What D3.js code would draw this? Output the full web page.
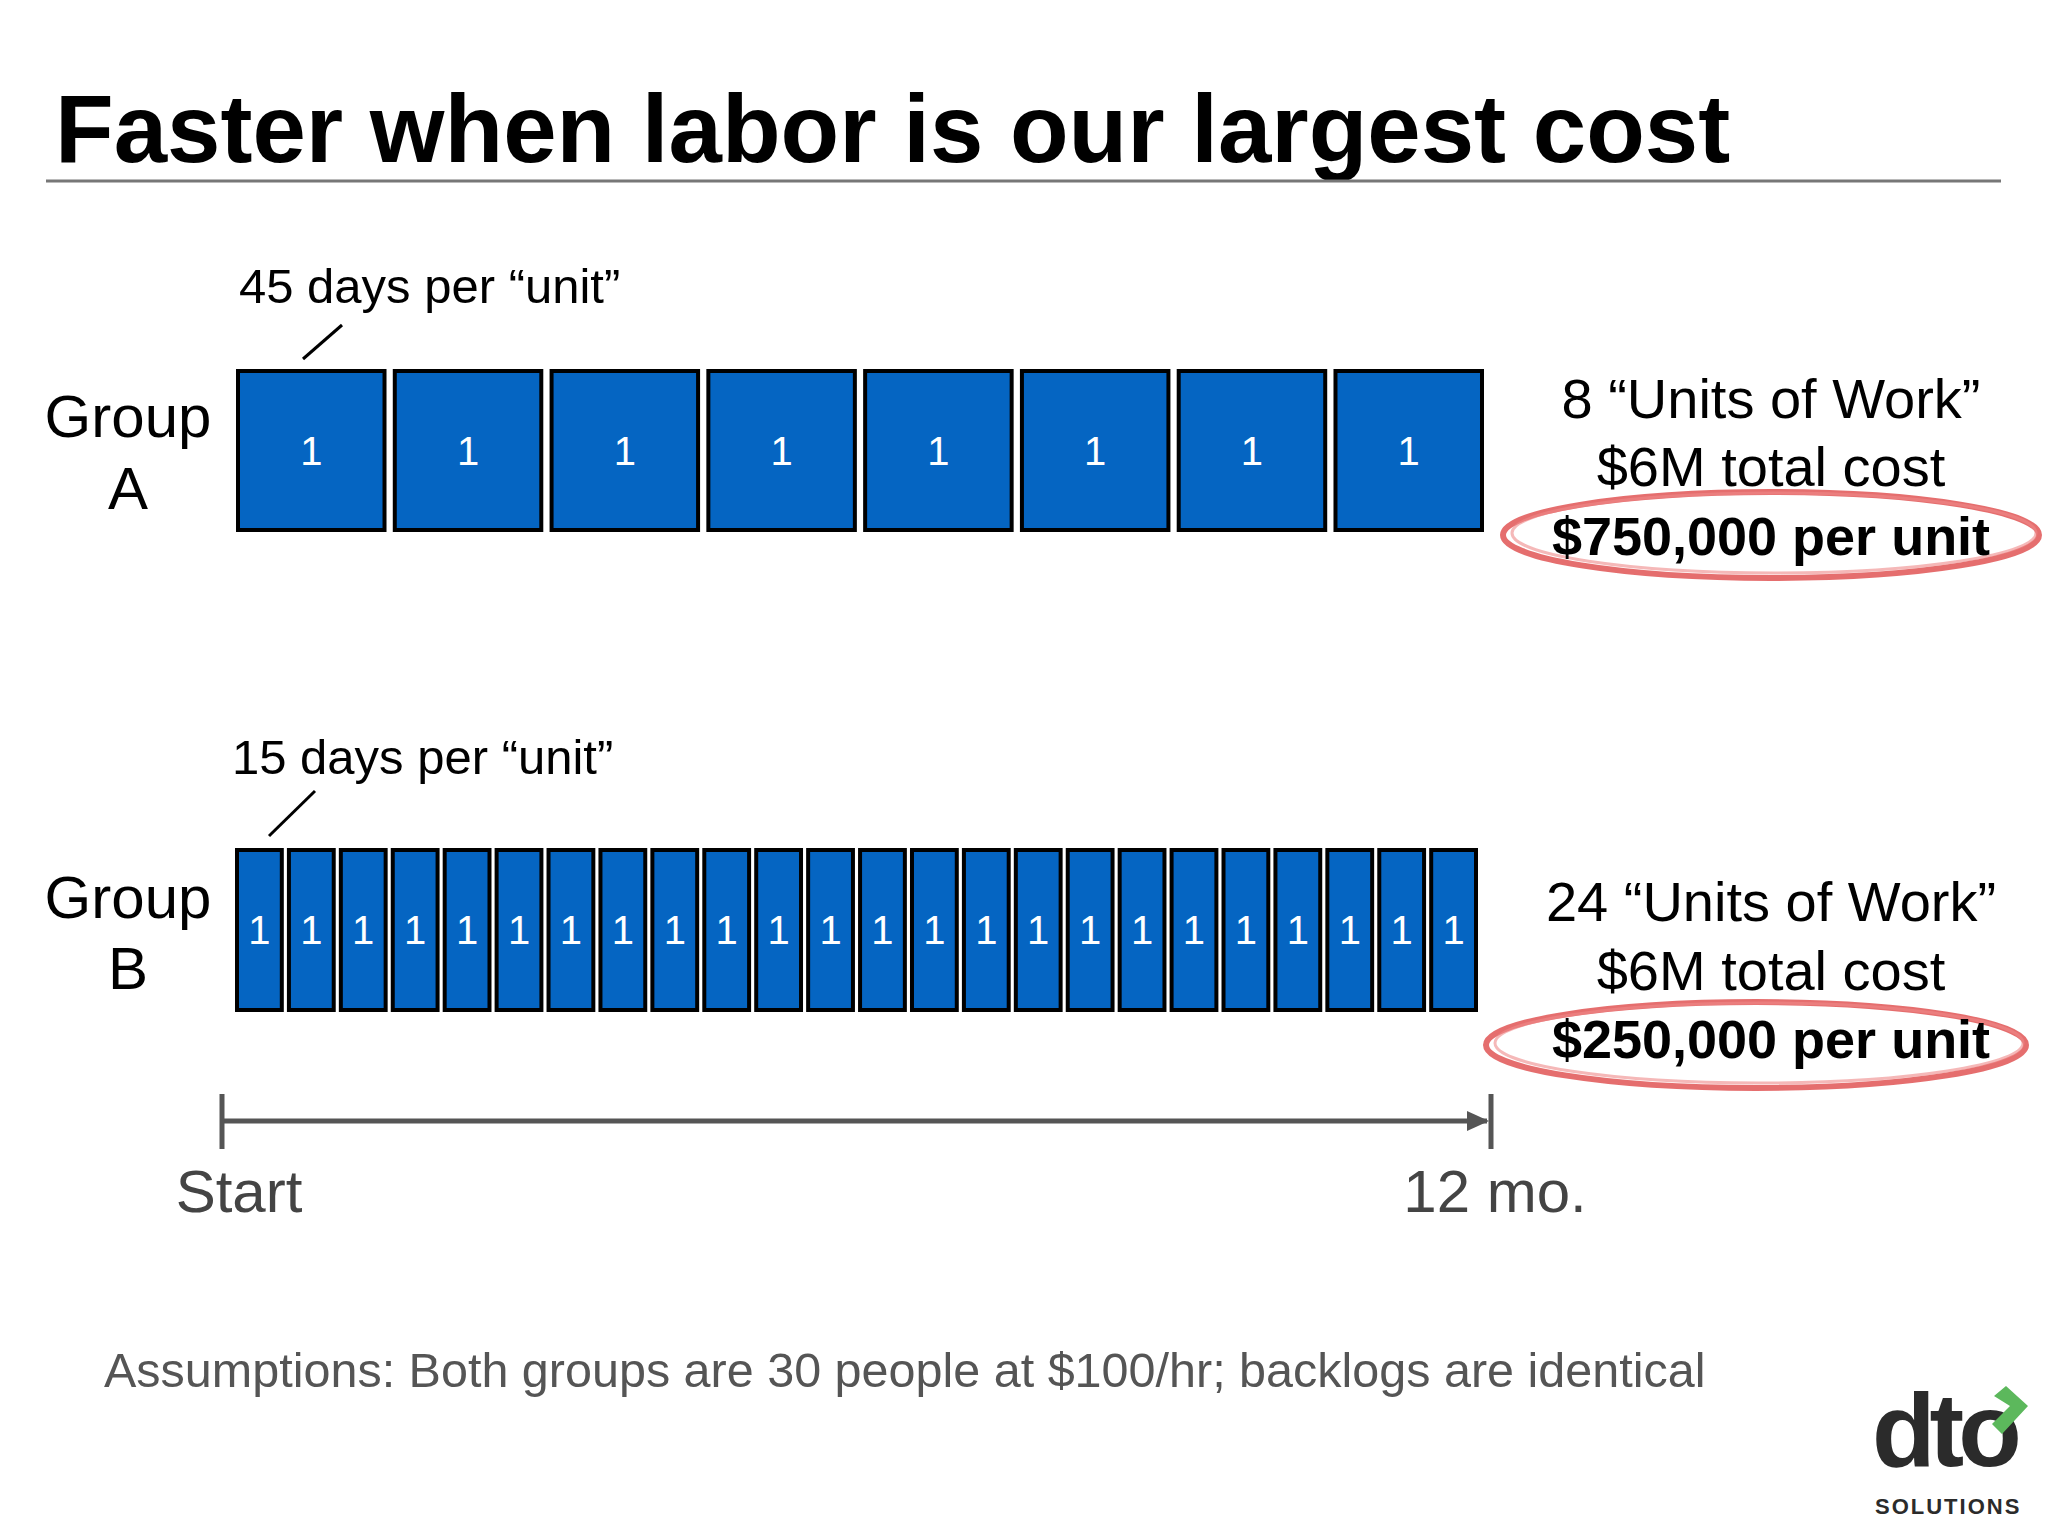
<!DOCTYPE html><html><head><meta charset="utf-8"><script src="https://cdn.jsdelivr.net/npm/d3@7"></script>
<style>body{margin:0;background:#fff}text{font-family:"Helvetica Neue",Arial,"Liberation Sans",sans-serif}</style></head><body>
<svg id="c" width="2048" height="1536"></svg>
<script>
const title = "Faster when labor is our largest cost";
const groups = ["Group A", "Group B"];
const unitCounts = [8, 24];
const daysPerUnit = ["45 days per “unit”", "15 days per “unit”"];
const summaryLines = [["8 “Units of Work”", "$6M total cost", "$750,000 per unit"],
                      ["24 “Units of Work”", "$6M total cost", "$250,000 per unit"]];
const timeLabels = ["Start", "12 mo."];
const assumption = "Assumptions: Both groups are 30 people at $100/hr; backlogs are identical";

const svg = d3.select("#c");
svg.append("text").attr("x",55).attr("y",162).attr("font-size",96).attr("font-weight","bold").attr("fill","#000").text(title);
svg.append("line").attr("x1",46).attr("x2",2001).attr("y1",181).attr("y2",181).attr("stroke","#777").attr("stroke-width",3);

const rows = [
 {x0:236,x1:1484,top:371,bot:530,pad:0.04,lbl:[{t:daysPerUnit[0],x:239,y:303}],leader:[342,325,303,359],g:[437,509],sum:[418,486,555],ell:[1771,535,268,43]},
 {x0:235,x1:1478,top:850,bot:1010,pad:0.06,lbl:[{t:daysPerUnit[1],x:232,y:774}],leader:[315,791,269,836],g:[918,989],sum:[921,990,1058],ell:[1756,1045,270,43]}
];
rows.forEach((r,i)=>{
  const x = d3.scaleBand().domain(d3.range(unitCounts[i])).range([r.x0,r.x1]).paddingInner(r.pad);
  const g = svg.append("g");
  g.selectAll("rect").data(d3.range(unitCounts[i])).join("rect")
    .attr("x",d=>x(d)+2).attr("y",r.top).attr("width",x.bandwidth()-4).attr("height",r.bot-r.top)
    .attr("fill","#0565c2").attr("stroke","#000").attr("stroke-width",4);
  g.selectAll("text").data(d3.range(unitCounts[i])).join("text")
    .attr("x",d=>x(d)+x.bandwidth()/2).attr("y",(r.top+r.bot)/2+14).attr("text-anchor","middle")
    .attr("font-size",40).attr("fill","#fff").text("1");
  svg.append("text").attr("x",r.lbl[0].x).attr("y",r.lbl[0].y).attr("font-size",49).text(r.lbl[0].t);
  svg.append("line").attr("x1",r.leader[0]).attr("y1",r.leader[1]).attr("x2",r.leader[2]).attr("y2",r.leader[3]).attr("stroke","#000").attr("stroke-width",3);
  const parts = groups[i].split(" ");
  parts.forEach((p,j)=>svg.append("text").attr("x",128).attr("y",r.g[j]).attr("text-anchor","middle").attr("font-size",60).text(p));
  const [cx,cy,rx,ry]=r.ell;
  svg.append("ellipse").attr("cx",cx).attr("cy",cy).attr("rx",rx).attr("ry",ry).attr("fill","none").attr("stroke","#e05555").attr("stroke-width",6).attr("opacity",0.85);
  svg.append("ellipse").attr("cx",cx+3).attr("cy",cy-2).attr("rx",rx-6).attr("ry",ry-3).attr("fill","none").attr("stroke","#e88").attr("stroke-width",3).attr("opacity",0.6);
  summaryLines[i].forEach((t,j)=>svg.append("text").attr("x",1771).attr("y",r.sum[j]).attr("text-anchor","middle").attr("font-size",j==2?54:56).attr("font-weight",j==2?"600":"normal").text(t));
});

const tx = d3.scaleLinear().domain([0,12]).range([222,1491]);
const tc="#555";
svg.append("line").attr("x1",tx(0)).attr("x2",tx(12)-4).attr("y1",1121).attr("y2",1121).attr("stroke",tc).attr("stroke-width",5);
[0,12].forEach(m=>svg.append("line").attr("x1",tx(m)).attr("x2",tx(m)).attr("y1",1094).attr("y2",1149).attr("stroke",tc).attr("stroke-width",5));
svg.append("path").attr("d",`M${tx(12)-2},1121 L${tx(12)-24},1111 L${tx(12)-24},1131 Z`).attr("fill",tc);
svg.append("text").attr("x",239).attr("y",1212).attr("text-anchor","middle").attr("font-size",60).attr("fill","#444").text(timeLabels[0]);
svg.append("text").attr("x",1495).attr("y",1212).attr("text-anchor","middle").attr("font-size",60).attr("fill","#444").text(timeLabels[1]);

svg.append("text").attr("x",104).attr("y",1387).attr("font-size",48.5).attr("fill","#555").text(assumption);

const lg = svg.append("g");
lg.append("text").attr("x",1872).attr("y",1466).attr("font-size",104).attr("font-weight","bold").attr("fill","#2b2b2b").attr("letter-spacing",-6).text("dto");
lg.append("path").attr("d","M1994,1396 L2006,1386 L2028,1406 L2002,1434 L1992,1424 L2010,1406 Z").attr("fill","#5cb85c");
lg.append("text").attr("x",1875).attr("y",1514).attr("font-size",22).attr("font-weight","bold").attr("fill","#2b2b2b").attr("letter-spacing",2).attr("font-family","DejaVu Sans Condensed").text("SOLUTIONS");
</script></body></html>
